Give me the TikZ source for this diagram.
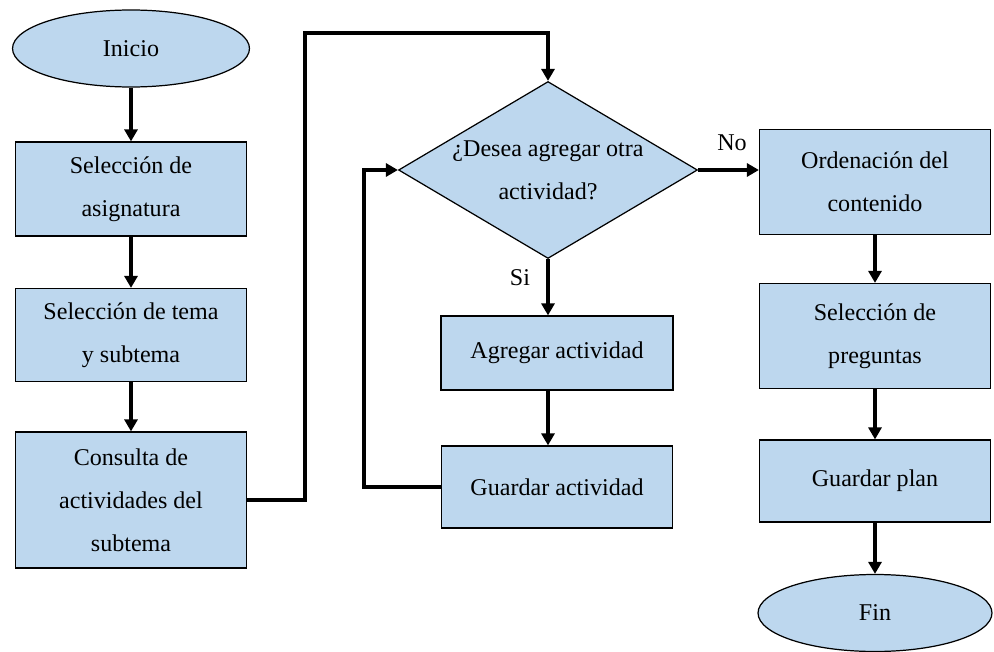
\documentclass[tikz,border=0pt]{standalone}
\usepackage{fontspec}
\setmainfont{Liberation Serif}
\usetikzlibrary{shapes.geometric,arrows.meta}
\definecolor{cajaazul}{RGB}{189,215,238}

\begin{document}
\begin{tikzpicture}[x=0.02cm,y=-0.02cm,
    caja/.style={draw,line width=0.7pt,fill=cajaazul,align=center,inner sep=0pt,
        minimum width=4.62cm,font=\fontsize{13.7}{24.5}\selectfont},
    terminal/.style={caja,ellipse,minimum width=4.74cm,minimum height=1.54cm},
    decision/.style={caja,diamond,aspect=1.69,minimum width=5.98cm,minimum height=3.54cm},
    flecha/.style={line width=2.2pt,-{Triangle[length=0.24cm,width=0.26cm]}},
    etiqueta/.style={font=\fontsize{13.7}{16}\selectfont}
    ]
\useasboundingbox (0,0) rectangle (994,652);
% columna izquierda
\node[terminal] (ini) at (131,48.5) {Inicio};
\node[caja,minimum height=1.88cm] (sel1) at (131,189) {Selección de\\asignatura};
\node[caja,minimum height=1.86cm] (sel2) at (131,335) {Selección de tema\\y subtema};
\node[caja,minimum height=2.72cm] (con) at (131,500) {Consulta de\\actividades del\\subtema};
% columna central
\node[decision] (dec) at (548,170) {¿Desea agregar otra\\actividad?};
\node[caja,minimum width=4.64cm,minimum height=1.48cm] (agr) at (557,353) {Agregar actividad};
\node[caja,minimum height=1.64cm] (gua) at (557,487) {Guardar actividad};
% columna derecha
\node[caja,minimum height=2.1cm] (ord) at (875,182) {Ordenación del\\contenido};
\node[caja,minimum height=2.1cm] (pre) at (875,336) {Selección de\\preguntas};
\node[caja,minimum height=1.64cm] (pla) at (875,481) {Guardar plan};
\node[terminal,minimum width=4.68cm] (fin) at (875,613) {Fin};
\node[etiqueta] (no) at (732,143) {No};
\node[etiqueta] (si) at (520,278) {Si};
\coordinate (sube) at (305,33);
\coordinate (vuelta) at (364,170);

\draw[flecha] (ini) -- (sel1);
\draw[flecha] (sel1) -- (sel2);
\draw[flecha] (sel2) -- (con);
\draw[flecha] (con.east) -| (sube) -| (dec.north);
\draw[flecha] (dec.south) -- (dec.south |- agr.north);
\draw[flecha] (agr.south -| dec.south) -- (dec.south |- gua.north);
\draw[flecha] (gua.west) -| (vuelta) -- (dec.west);
\draw[flecha] (dec.east) -- (dec.east -| ord.west);
\draw[flecha] (ord) -- (pre);
\draw[flecha] (pre) -- (pla);
\draw[flecha] (pla) -- (fin);
\end{tikzpicture}
\end{document}
